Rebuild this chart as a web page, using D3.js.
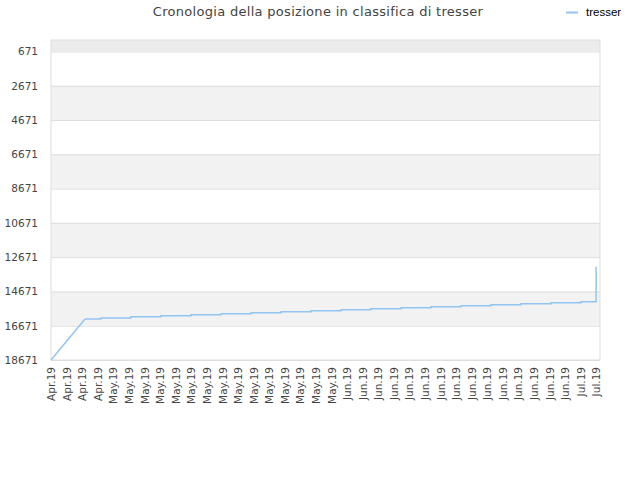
<!DOCTYPE html>
<html>
<head>
<meta charset="utf-8">
<script src="https://cdn.jsdelivr.net/npm/d3@7"></script>
<style>
  body { margin: 0; background: #fff; }
</style>
</head>
<body>
<div id="chart"></div>
<script>
// rank history of "tresser" (lower number = better position)
const seriesName = 'tresser';
const rankDates = [
    '2019-04-24 00:00', '2019-04-28 09:00', '2019-04-30 10:00', '2019-05-04 06:30',
    '2019-05-08 03:00', '2019-05-11 23:30', '2019-05-15 20:00', '2019-05-19 16:30',
    '2019-05-23 13:00', '2019-05-27 09:30', '2019-05-31 06:00', '2019-06-04 02:00',
    '2019-06-07 23:00', '2019-06-11 19:00', '2019-06-15 15:30', '2019-06-19 12:00',
    '2019-06-23 08:30', '2019-06-27 05:00', '2019-07-01 01:30', '2019-07-03 00:00'
];
const rankValues = [
    18671, 16279, 16221, 16151,
    16087, 16028, 15970, 15912,
    15853, 15795, 15737, 15678,
    15620, 15562, 15503, 15445,
    15387, 15328, 15270, 13227
];

const yTicks = [671, 2671, 4671, 6671, 8671, 10671, 12671, 14671, 16671, 18671];
const xTickDates = [
    '2019-04-24', '2019-04-26', '2019-04-28', '2019-04-30',
    '2019-05-02', '2019-05-04', '2019-05-06', '2019-05-08', '2019-05-10',
    '2019-05-12', '2019-05-14', '2019-05-16', '2019-05-18', '2019-05-20',
    '2019-05-22', '2019-05-24', '2019-05-26', '2019-05-28', '2019-05-30',
    '2019-06-01', '2019-06-03', '2019-06-05', '2019-06-07', '2019-06-09',
    '2019-06-11', '2019-06-13', '2019-06-15', '2019-06-17', '2019-06-19',
    '2019-06-21', '2019-06-23', '2019-06-25', '2019-06-27', '2019-06-29',
    '2019-07-01', '2019-07-03'
];

const width = 640, height = 480;
const plotLeft = 51, plotRight = 600, plotTop = 40, plotBottom = 360;
const lineColor = '#92c4f2';

const parseTime = d3.timeParse('%Y-%m-%d %H:%M');
const parseDay = d3.timeParse('%Y-%m-%d');
const data = rankDates.map((d, i) => ({ date: parseTime(d), rank: rankValues[i] }));
const tickDates = xTickDates.map(parseDay);

const svg = d3.select('#chart')
    .append('svg')
    .attr('width', width)
    .attr('height', height)
    .style('font-family', '"DejaVu Sans", sans-serif');

/* scales: rank 1 at the top */
const xScale = d3.scaleTime()
    .domain([parseTime('2019-04-24 00:00'), parseTime('2019-07-03 12:00')])
    .range([plotLeft, plotRight]);

const yScale = d3.scaleLinear()
    .domain([1, 18671])
    .range([plotTop, plotBottom]);

/* alternating bands between the y ticks */
const bandEdges = [1].concat(yTicks);
svg.append('g')
    .selectAll('rect')
    .data(d3.pairs(bandEdges))
    .join('rect')
    .attr('x', plotLeft)
    .attr('width', plotRight - plotLeft)
    .attr('y', d => yScale(d[0]))
    .attr('height', d => yScale(d[1]) - yScale(d[0]))
    .attr('fill', (d, i) => i === 0 ? '#ececec' : (i % 2 === 0 ? '#f2f2f2' : '#ffffff'));

/* y gridlines + labels */
const yAxis = d3.axisLeft(yScale)
    .tickValues(yTicks)
    .tickSize(-(plotRight - plotLeft))
    .tickPadding(13)
    .tickFormat(d3.format('d'));

svg.append('g')
    .attr('transform', `translate(${plotLeft},0)`)
    .call(yAxis)
    .call(g => g.select('.domain').remove())
    .call(g => g.selectAll('line').attr('stroke', '#dddddd'))
    .call(g => g.selectAll('text')
        .attr('fill', '#444')
        .style('font-size', '10.5px')
        .style('font-family', '"DejaVu Sans", sans-serif'));

/* plot frame */
svg.append('rect')
    .attr('x', plotLeft)
    .attr('y', plotTop)
    .attr('width', plotRight - plotLeft)
    .attr('height', plotBottom - plotTop)
    .attr('fill', 'none')
    .attr('stroke', '#dddddd');

/* x axis labels, rotated */
const xAxis = d3.axisBottom(xScale)
    .tickValues(tickDates)
    .tickSize(0)
    .tickFormat(d3.timeFormat('%b.%y'));

svg.append('g')
    .attr('transform', `translate(0,${plotBottom})`)
    .call(xAxis)
    .call(g => g.select('.domain').remove())
    .call(g => g.selectAll('text')
        .attr('fill', '#444')
        .style('font-size', '10.5px')
        .style('font-family', '"DejaVu Sans", sans-serif')
        .attr('transform', 'rotate(-90)')
        .attr('text-anchor', 'end')
        .attr('x', -7)
        .attr('y', 0)
        .attr('dy', '0.35em'));

/* rank line: straight climb first, then stepped */
const lineStraight = d3.line()
    .x(d => xScale(d.date))
    .y(d => yScale(d.rank));

const lineSteps = d3.line()
    .x(d => xScale(d.date))
    .y(d => yScale(d.rank))
    .curve(d3.curveStepAfter);

svg.append('path')
    .attr('fill', 'none')
    .attr('stroke', lineColor)
    .attr('stroke-width', 1.5)
    .attr('d', lineStraight(data.slice(0, 2)) + lineSteps(data.slice(1)));

/* title */
svg.append('text')
    .text('Cronologia della posizione in classifica di tresser')
    .attr('x', 318)
    .attr('y', 16)
    .attr('text-anchor', 'middle')
    .attr('fill', '#444')
    .style('letter-spacing', '0.3px')
    .style('font-size', '13px');

/* legend */
svg.append('line')
    .attr('x1', 566)
    .attr('x2', 578)
    .attr('y1', 12.5)
    .attr('y2', 12.5)
    .attr('stroke', lineColor)
    .attr('stroke-width', 2);

svg.append('text')
    .text(seriesName)
    .attr('x', 586)
    .attr('y', 16)
    .attr('fill', '#000')
    .style('font-family', '"Liberation Sans", Arial, sans-serif')
    .style('font-size', '11.5px');
</script>
</body>
</html>
